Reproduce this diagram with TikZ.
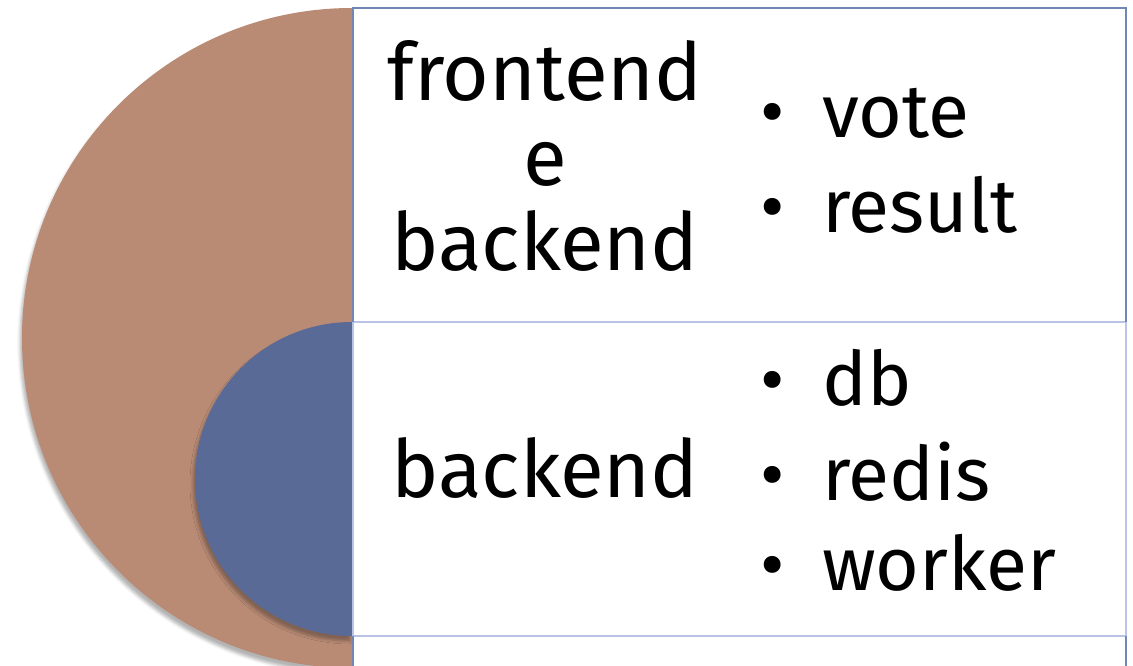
\documentclass[tikz,border=0pt]{standalone}
\usepackage{fontspec}
\setmainfont{Fira Sans}
\usetikzlibrary{shadows.blur}

\definecolor{outerfill}{HTML}{B98B75}
\definecolor{innerfill}{HTML}{5A6A96}
\definecolor{rimdark}{HTML}{6F87B5}
\definecolor{rimlight}{HTML}{B8C3E6}

\tikzset{
  bigtext/.style={font=\fontsize{80}{85}\selectfont, inner sep=0pt},
  itemtext/.style={font=\fontsize{75}{87}\selectfont, inner sep=0pt, anchor=base west},
  bulletmark/.style={font=\fontsize{75}{87}\selectfont, inner sep=0pt, anchor=base},
  softshade/.style={blur shadow={shadow xshift=-2pt,shadow yshift=-5pt,shadow blur radius=3pt,shadow opacity=30}},
}

\begin{document}
\begin{tikzpicture}[x=1pt,y=-1pt]
	\useasboundingbox (0,0) rectangle (1133,666);
	% the two half discs (y runs downwards, so the arcs go from 270 back to 90)
	\begin{scope}
		\clip (0,0) rectangle (352,670);
		\fill[outerfill,softshade] (352,8) arc[start angle=270,end angle=90,radius=330] -- cycle;
		\fill[innerfill,softshade] (352,322) arc[start angle=270,end angle=90,radius=157] -- cycle;
	\end{scope}
	% table rows
	\draw[rimlight,line width=2.5pt] (353,322) -- (1126,322) (353,636) -- (1126,636);
	\draw[rimlight,line width=2pt] (353,322) -- (353,636) (1126,322) -- (1126,636);
	\draw[rimdark,line width=2pt] (353,322) -- (353,8) -- (1126,8) -- (1126,322);
	\draw[rimdark,line width=2pt] (353,636) -- (353,670) (1126,636) -- (1126,670);
	% labels of the rows
	\node[bigtext,align=center,anchor=base] (front) at (545,270) {frontend\\e\\backend};
	\node[bigtext,anchor=base] (back) at (545,497) {backend};
	% bullet lists
	\foreach \name/\y in {vote/138,result/232,db/405,redis/500,worker/590}{
		\node[bulletmark] (dot-\name) at (773,\y) {•};
		\node[itemtext] (item-\name) at (822,\y) {\name};
	}
\end{tikzpicture}
\end{document}
